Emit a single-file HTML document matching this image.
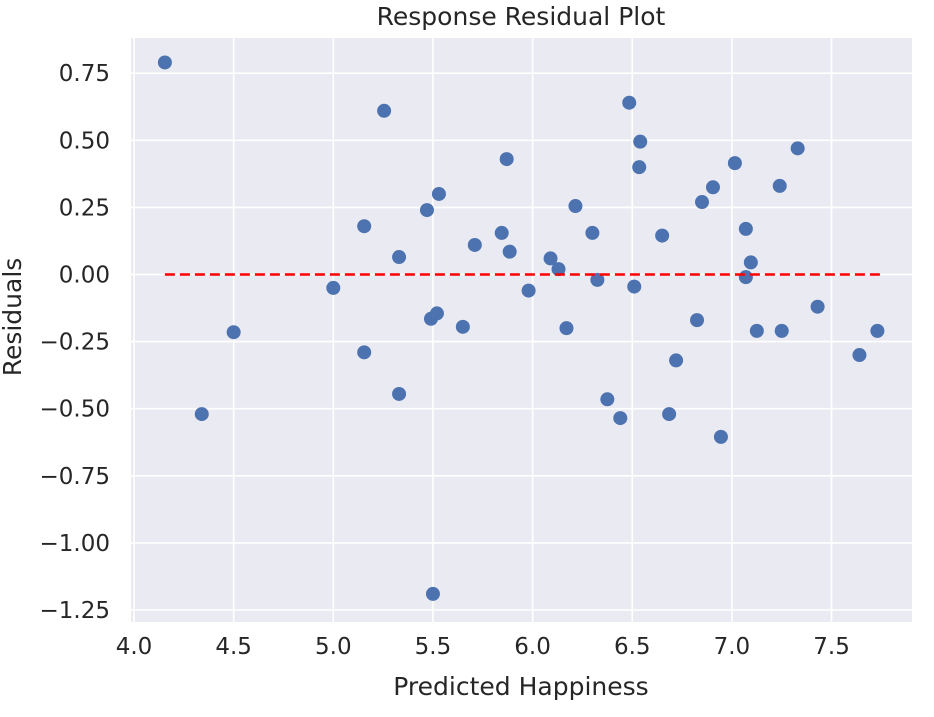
<!DOCTYPE html>
<html><head><meta charset="utf-8"><style>
body{margin:0;background:#fff;}
svg text{font-family:"DejaVu Sans","Liberation Sans",sans-serif;fill:#262626;}
</style></head><body>
<svg id="chart" width="934" height="712">
<rect x="131" y="38" width="781" height="584" fill="#eaeaf2"/>
<g id="grid"></g><g id="ticks"></g><g id="marks"></g>
<text x="521" y="25" text-anchor="middle" font-size="25">Response Residual Plot</text>
<text x="521" y="695" text-anchor="middle" font-size="25">Predicted Happiness</text>
<text transform="translate(21,317) rotate(-90)" text-anchor="middle" font-size="25">Residuals</text>
</svg>
<script>
const xTicks=[4.0,4.5,5.0,5.5,6.0,6.5,7.0,7.5];
const yTicks=[0.75,0.5,0.25,0,-0.25,-0.5,-0.75,-1.0,-1.25];
const predicted=[4.155,4.34,4.50,5.0,5.155,5.155,5.255,5.33,5.33,5.47,5.49,5.52,5.53,5.50,5.65,5.71,5.845,5.87,5.885,5.98,6.09,6.13,6.17,6.215,6.30,6.325,6.375,6.44,6.485,6.51,6.54,6.535,6.65,6.685,6.72,6.825,6.85,6.905,6.945,7.015,7.07,7.07,7.095,7.125,7.24,7.25,7.33,7.43,7.64,7.73];
const residuals=[0.79,-0.52,-0.215,-0.05,0.18,-0.29,0.61,0.065,-0.445,0.24,-0.165,-0.145,0.30,-1.19,-0.195,0.11,0.155,0.43,0.085,-0.06,0.06,0.02,-0.20,0.255,0.155,-0.02,-0.465,-0.535,0.64,-0.045,0.495,0.40,0.145,-0.52,-0.32,-0.17,0.27,0.325,-0.605,0.415,0.17,-0.01,0.045,-0.21,0.33,-0.21,0.47,-0.12,-0.30,-0.21];
const refLine=[4.155,7.75];
const X=v=>134+(v-4)*199.3, Y=v=>274.5-v*268.4;
const NS='http://www.w3.org/2000/svg';
function mk(t,a,p){const e=document.createElementNS(NS,t);for(const k in a)e.setAttribute(k,a[k]);document.getElementById(p).appendChild(e);return e;}
xTicks.forEach(v=>{
 const l=mk('line',{x1:X(v),x2:X(v),y1:38,y2:622,stroke:'#fff','stroke-width':1.6},'grid');
 
 
 const t=mk('text',{x:X(v),y:654,'text-anchor':'middle','font-size':23},'ticks');t.textContent=v.toFixed(1);
 
 
});
yTicks.forEach(v=>{
 const l=mk('line',{x1:131,x2:912,y1:Y(v),y2:Y(v),stroke:'#fff','stroke-width':1.6},'grid');
 
 
 const t=mk('text',{x:110,y:Y(v)+8,'text-anchor':'end','font-size':23},'ticks');t.textContent=(v<0?'\u2212':'')+Math.abs(v).toFixed(2);
 
 
});
predicted.forEach((p,i)=>{
 const c=mk('circle',{cx:X(p),cy:Y(residuals[i]),r:7,fill:'#4c72b0'},'marks');
 
 
});
const rl=mk('line',{x1:X(refLine[0]),x2:X(refLine[1]),y1:Y(0),y2:Y(0),stroke:'#ff0000','stroke-width':2.6,'stroke-dasharray':'10,5'},'marks');


</script>
</body></html>
